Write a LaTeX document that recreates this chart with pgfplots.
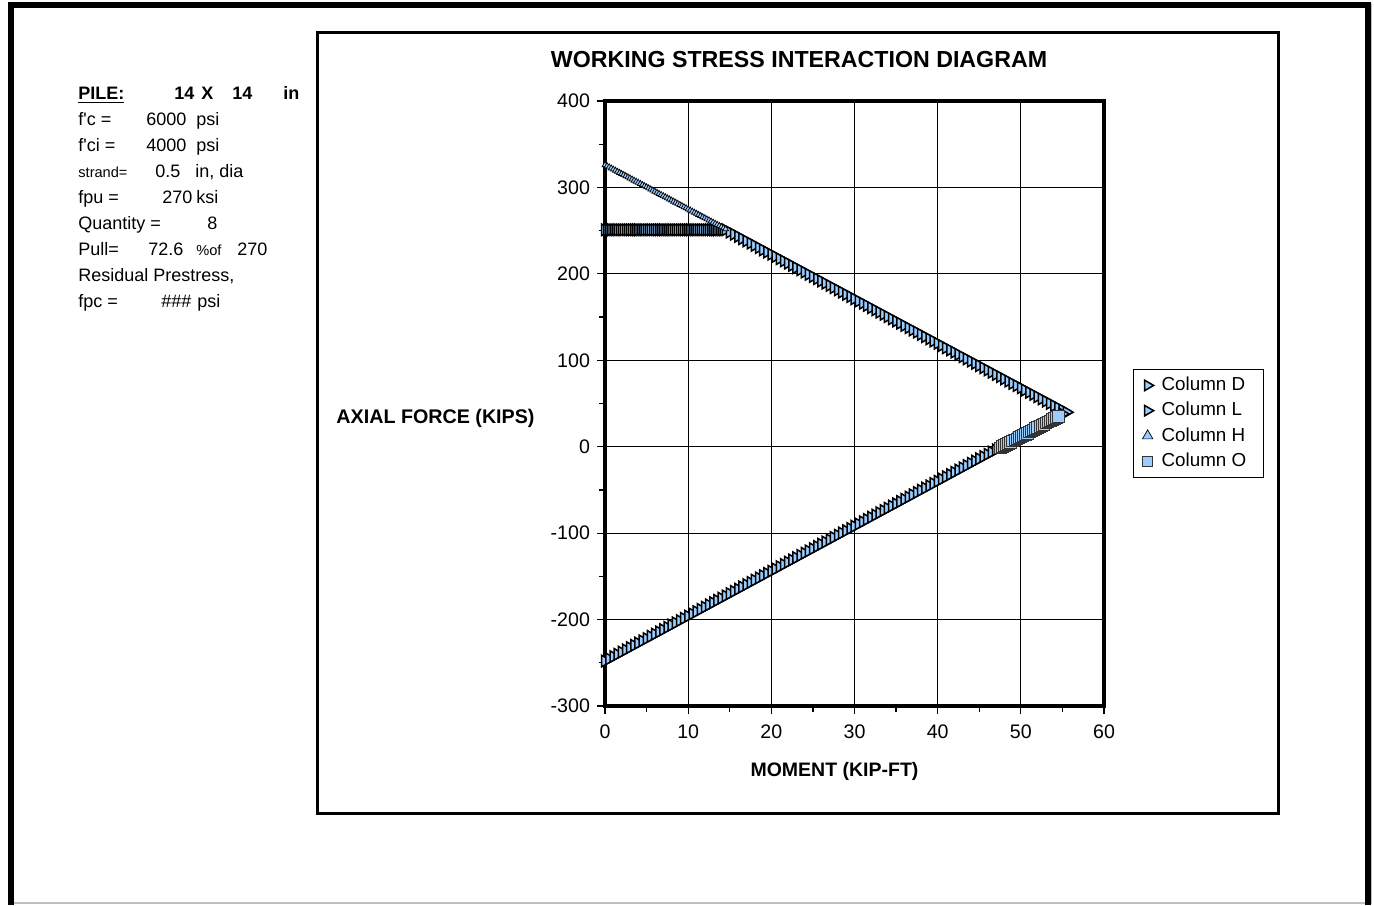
\documentclass[border=0pt]{standalone}
\usepackage{pgfplots}
\pgfplotsset{compat=1.18}
\usepackage{fontspec}
\setmainfont{Liberation Sans}
\definecolor{mfill}{RGB}{153,204,255}
\newcommand{\fs}[1]{\fontsize{#1}{#1}\selectfont}
\begin{document}
\begin{tikzpicture}
\path[use as bounding box] (0,0) rectangle (687pt,452.5pt);
\begin{scope}[x=0.5pt,y=-0.5pt,shift={(0pt,452.5pt)}]
\draw[gray!50, line width=0.6pt] (11,903) -- (1371,903) -- (1371,3);
\draw[line width=3pt] (11,905) -- (11,5.5) -- (1367.5,5.5) -- (1367.5,905);
\draw[line width=1.5pt] (317,33) rectangle (1278,813);
% title and axis labels
\node[font=\fs{11.6}\bfseries] at (799,60) {WORKING STRESS INTERACTION DIAGRAM};
\node[font=\fs{9.85}\bfseries] at (435.5,418) {AXIAL FORCE (KIPS)};
\node[font=\fs{9.75}\bfseries] at (834.5,771) {MOMENT (KIP-FT)};
% left text block
\begin{scope}[every node/.style={anchor=base west, inner sep=0pt, font=\fs{9.0}}]
\node[font=\fs{9.0}\bfseries] at (78,100) {\underline{PILE:}};
\node[font=\fs{9.0}\bfseries] at (174,100) {14};
\node[font=\fs{9.0}\bfseries] at (201,100) {X};
\node[font=\fs{9.0}\bfseries] at (232,100) {14};
\node[font=\fs{9.0}\bfseries] at (283,100) {in};
\node at (78,126) {f\textquotesingle c =};
\node at (146,126) {6000};
\node at (196,126) {psi};
\node at (78,152) {f\textquotesingle ci =};
\node at (146,152) {4000};
\node at (196,152) {psi};
\node[font=\fs{7.3}] at (78,178) {strand=};
\node at (155,178) {0.5};
\node at (195,178) {in, dia};
\node at (78,204) {fpu =};
\node at (162,204) {270};
\node at (196,204) {ksi};
\node at (78,230) {Quantity =};
\node at (207,230) {8};
\node at (78,256) {Pull=};
\node at (148,256) {72.6};
\node[font=\fs{7.3}] at (196,256) {\%of};
\node at (237,256) {270};
\node at (78,282) {Residual Prestress,};
\node at (78,308) {fpc =};
\node at (161,308) {\#\#\#};
\node at (197,308) {psi};
\end{scope}
\end{scope}
\begin{axis}[
  at={(302.5pt,99.5pt)}, anchor=south west,
  scale only axis, width=249.5pt, height=302.5pt,
  xmin=0, xmax=60, ymin=-300, ymax=400,
  xtick={0,10,...,60}, ytick={-300,-200,...,400},
  minor x tick num=1, minor y tick num=1,
  grid=major, major grid style={black, line width=0.5pt},
  axis line style={line width=1.8pt},
  tick align=outside, tick pos=left,
  major tick length=4pt, minor tick length=3pt,
  tick style={black, line width=0.6pt},
  ticklabel style={font=\fs{9.8}},
  xticklabel style={yshift=-2pt},
  /pgf/number format/assume math mode=true,
  clip=false,
  legend cell align=left,
  legend style={at={(rel axis cs:1.058,0.557)}, anchor=north west,
    draw=black, line width=0.5pt, font=\fs{9.4}, row sep=0.3pt,
    inner xsep=4.5pt, inner ysep=1.8pt,
    nodes={inner xsep=4pt}},
]
\addplot[only marks, mark=triangle*, mark size=3.3pt,
  mark options={rotate=-90, fill=mfill, draw=black, line width=0.75pt},
  legend image post style={mark size=3pt, line width=0.35pt}]
coordinates {
(0,251) (0.25,251) (0.5,251) (0.75,251) (1,251) (1.25,251) (1.5,251) (1.75,251)
(2,251) (2.25,251) (2.5,251) (2.75,251) (3,251) (3.25,251) (3.5,251) (3.75,251)
(4,251) (4.25,251) (4.5,251) (4.75,251) (5,251) (5.25,251) (5.5,251) (5.75,251)
(6,251) (6.25,251) (6.5,251) (6.75,251) (7,251) (7.25,251) (7.5,251) (7.75,251)
(8,251) (8.25,251) (8.5,251) (8.75,251) (9,251) (9.25,251) (9.5,251) (9.75,251)
(10,251) (10.25,251) (10.5,251) (10.75,251) (11,251) (11.25,251) (11.5,251) (11.75,251)
(12,251) (12.25,251) (12.5,251) (12.75,251) (13,251) (13.25,251) (13.5,251) (13.75,251)
(14,251) (14.25,251)
(14.5,251.0) (15,248.4) (15.5,245.9) (16,243.3) (16.5,240.7) (17,238.1) (17.5,235.6) (18,233.0)
(18.5,230.4) (19,227.8) (19.5,225.3) (20,222.7) (20.5,220.1) (21,217.5) (21.5,215.0) (22,212.4)
(22.5,209.8) (23,207.2) (23.5,204.7) (24,202.1) (24.5,199.5) (25,196.9) (25.5,194.4) (26,191.8)
(26.5,189.2) (27,186.6) (27.5,184.1) (28,181.5) (28.5,178.9) (29,176.3) (29.5,173.8) (30,171.2)
(30.5,168.6) (31,166.0) (31.5,163.5) (32,160.9) (32.5,158.3) (33,155.7) (33.5,153.2) (34,150.6)
(34.5,148.0) (35,145.4) (35.5,142.9) (36,140.3) (36.5,137.7) (37,135.1) (37.5,132.6) (38,130.0)
(38.5,127.4) (39,124.8) (39.5,122.3) (40,119.7) (40.5,117.1) (41,114.5) (41.5,112.0) (42,109.4)
(42.5,106.8) (43,104.2) (43.5,101.7) (44,99.1) (44.5,96.5) (45,93.9) (45.5,91.4) (46,88.8)
(46.5,86.2) (47,83.6) (47.5,81.1) (48,78.5) (48.5,75.9) (49,73.3) (49.5,70.8) (50,68.2)
(50.5,65.6) (51,63.0) (51.5,60.5) (52,57.9) (52.5,55.3) (53,52.7) (53.5,50.2) (54,47.6)
(54.5,45.0) (55,42.4) (55.5,39.9)
};
\addlegendentry{Column D}
\addplot[only marks, mark=triangle*, mark size=3.3pt,
  mark options={rotate=-90, fill=mfill, draw=black, line width=0.75pt},
  legend image post style={mark size=3pt, line width=0.35pt}]
coordinates {
(0,-248) (0.5,-245.4) (1,-242.8) (1.5,-240.2) (2,-237.6) (2.5,-235) (3,-232.4) (3.5,-229.8) (4,-227.2) (4.5,-224.6)
(5,-222) (5.5,-219.4) (6,-216.8) (6.5,-214.2) (7,-211.6) (7.5,-209) (8,-206.4) (8.5,-203.8) (9,-201.2) (9.5,-198.6)
(10,-196) (10.5,-193.4) (11,-190.8) (11.5,-188.2) (12,-185.6) (12.5,-183) (13,-180.4) (13.5,-177.8) (14,-175.2) (14.5,-172.6)
(15,-170) (15.5,-167.4) (16,-164.8) (16.5,-162.2) (17,-159.6) (17.5,-157) (18,-154.4) (18.5,-151.8) (19,-149.2) (19.5,-146.6)
(20,-144) (20.5,-141.4) (21,-138.8) (21.5,-136.2) (22,-133.6) (22.5,-131) (23,-128.4) (23.5,-125.8) (24,-123.2) (24.5,-120.6)
(25,-118) (25.5,-115.4) (26,-112.8) (26.5,-110.2) (27,-107.6) (27.5,-105) (28,-102.4) (28.5,-99.8) (29,-97.2) (29.5,-94.6)
(30,-92) (30.5,-89.4) (31,-86.8) (31.5,-84.2) (32,-81.6) (32.5,-79) (33,-76.4) (33.5,-73.8) (34,-71.2) (34.5,-68.6)
(35,-66) (35.5,-63.4) (36,-60.8) (36.5,-58.2) (37,-55.6) (37.5,-53) (38,-50.4) (38.5,-47.8) (39,-45.2) (39.5,-42.6)
(40,-40) (40.5,-37.4) (41,-34.8) (41.5,-32.2) (42,-29.6) (42.5,-27) (43,-24.4) (43.5,-21.8) (44,-19.2) (44.5,-16.6)
(45,-14) (45.5,-11.4) (46,-8.8) (46.5,-6.2) (47,-3.6) (47.5,-1) (48,1.6) (48.5,4.2) (49,6.8) (49.5,9.4)
(50,12) (50.5,14.6) (51,17.2) (51.5,19.8) (52,22.4) (52.5,25) (53,27.6) (53.5,30.2) (54,32.8) (54.5,35.4) (55,38)
};
\addlegendentry{Column L}
\addplot[only marks, mark=triangle*, mark size=1.7pt,
  mark options={fill=mfill, draw=black, line width=0.35pt},
  legend image post style={mark size=3pt, line width=0.35pt}]
coordinates {
(0,326) (0.25,324.72) (0.5,323.44) (0.75,322.16) (1,320.88) (1.25,319.6) (1.5,318.32) (1.75,317.04)
(2,315.76) (2.25,314.48) (2.5,313.2) (2.75,311.92) (3,310.64) (3.25,309.36) (3.5,308.08) (3.75,306.8)
(4,305.52) (4.25,304.24) (4.5,302.96) (4.75,301.68) (5,300.4) (5.25,299.12) (5.5,297.84) (5.75,296.56)
(6,295.28) (6.25,294) (6.5,292.72) (6.75,291.44) (7,290.16) (7.25,288.88) (7.5,287.6) (7.75,286.32)
(8,285.04) (8.25,283.76) (8.5,282.48) (8.75,281.2) (9,279.92) (9.25,278.64) (9.5,277.36) (9.75,276.08)
(10,274.8) (10.25,273.52) (10.5,272.24) (10.75,270.96) (11,269.68) (11.25,268.4) (11.5,267.12) (11.75,265.84)
(12,264.56) (12.25,263.28) (12.5,262) (12.75,260.72) (13,259.44) (13.25,258.16) (13.5,256.88) (13.75,255.6)
(14,254.32) (14.25,253.04) (14.5,251.76)
};
\addlegendentry{Column H}
\addplot[only marks, mark=square*, mark size=2.9pt,
  mark options={fill=mfill, draw=black!80, line width=0.25pt},
  legend image post style={mark size=2.5pt, line width=0.35pt}]
coordinates {
(47.5,-1) (47.75,0.3) (48,1.6) (48.25,2.9) (48.5,4.2) (48.75,5.5) (49,6.8) (49.25,8.1)
(49.5,9.4) (49.75,10.7) (50,12) (50.25,13.3) (50.5,14.6) (50.75,15.9) (51,17.2) (51.25,18.5)
(51.5,19.8) (51.75,21.1) (52,22.4) (52.25,23.7) (52.5,25) (52.75,26.3) (53,27.6) (53.25,28.9)
(53.5,30.2) (53.75,31.5) (54,32.8) (54.25,34.1) (54.5,35.4)
};
\addlegendentry{Column O}
\end{axis}
\end{tikzpicture}
\end{document}
